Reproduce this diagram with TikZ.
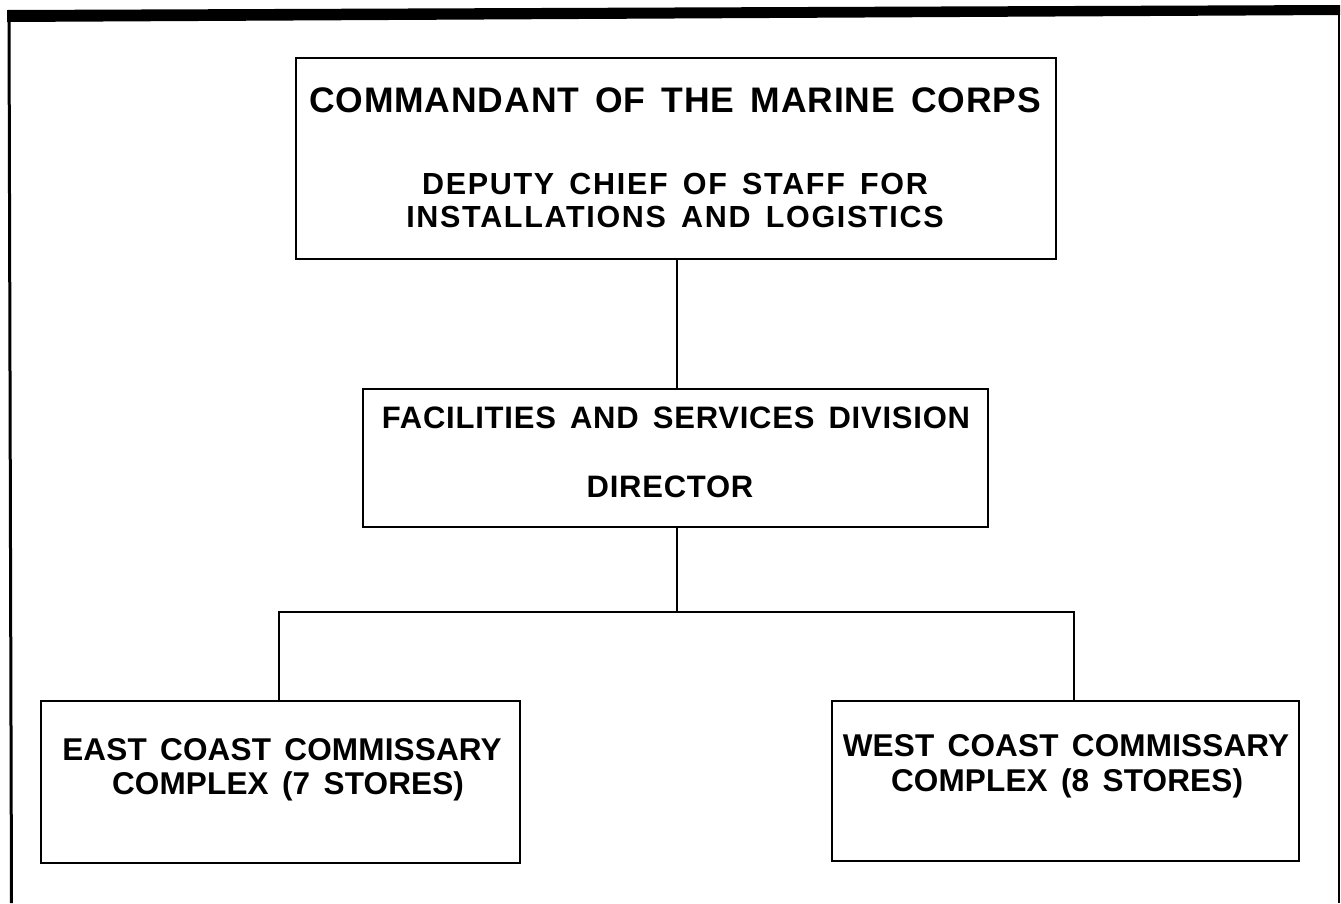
\documentclass[tikz,border=0pt]{standalone}
\usepackage{fontspec}
\setmainfont{Liberation Sans}
\newfontfamily\orgfont[LetterSpace=2.5,WordSpace=1.5]{Liberation Sans}
\newfontfamily\orgfontwide[LetterSpace=5.5,WordSpace=1.5]{Liberation Sans}
\newfontfamily\orgfontlow[LetterSpace=0.5,WordSpace=1.5]{Liberation Sans}
\begin{document}
\begin{tikzpicture}[x=1pt,y=-1pt,
  box/.style={draw, line width=2.4pt, inner sep=0pt, anchor=north west},
  wire/.style={line width=2pt},
  frameline/.style={line width=3pt},
  title/.style={inner sep=0pt, font=\orgfont\bfseries\fontsize{35.5}{40}\selectfont},
  sub/.style={inner sep=0pt, font=\orgfontwide\bfseries\fontsize{30.5}{32}\selectfont},
  midtxt/.style={inner sep=0pt, font=\orgfont\bfseries\fontsize{31}{36}\selectfont},
  lowtxt/.style={inner sep=0pt, font=\orgfontlow\bfseries\fontsize{31.5}{36}\selectfont}]
\useasboundingbox (0,0) rectangle (1341,903);
% outer frame
\fill (7,10) -- (1340,5) -- (1340,15) -- (7,22) -- cycle;
\draw[frameline] (9,16) -- (11.5,903);
\draw[line width=2pt] (1339,8) -- (1339,903);
% boxes
\node[box, minimum width=760pt, minimum height=201pt] (cmc) at (295,57) {};
\node[box, minimum width=625pt, minimum height=138pt] (fsd) at (362,388) {};
\node[box, minimum width=479pt, minimum height=162pt] (east) at (40,700) {};
\node[box, minimum width=467pt, minimum height=160pt] (west) at (831,700) {};
% texts
\node[title] (t1) at (675,100) {COMMANDANT OF THE MARINE CORPS};
\node[sub] (t2) at (675,184) {DEPUTY CHIEF OF STAFF FOR};
\node[sub] (t3) at (675,217) {INSTALLATIONS AND LOGISTICS};
\node[midtxt] (t4) at (676,418) {FACILITIES AND SERVICES DIVISION};
\node[midtxt] (t5) at (670,487) {DIRECTOR};
\node[lowtxt] (t6) at (282,750) {EAST COAST COMMISSARY};
\node[lowtxt] (t7) at (288,786) {COMPLEX (7 STORES)};
\node[lowtxt] (t8) at (1066,746) {WEST COAST COMMISSARY};
\node[lowtxt] (t9) at (1067,783) {COMPLEX (8 STORES)};
% connectors
\coordinate (spine) at (677,612);
\coordinate (lj) at (279,612);
\coordinate (rj) at (1074,612);
\draw[wire] (cmc.south -| spine) -- (fsd.north -| spine);
\draw[wire] (fsd.south -| spine) -- (spine);
\draw[wire] (east.north -| lj) -- (lj) -- (rj) -- (west.north -| rj);
\end{tikzpicture}
\end{document}
